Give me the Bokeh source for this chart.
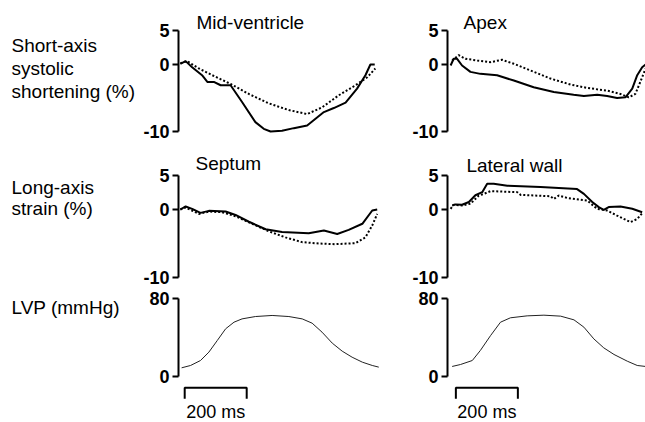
from bokeh.plotting import figure
from bokeh.models import Range1d, FixedTicker, Label
from bokeh.layouts import column, row
from bokeh.embed import file_html
from bokeh.resources import INLINE

# ---------------- data (time in ms, strain in %, pressure in mmHg) ----------------
t_mid_solid = [1, 18, 39, 71, 88, 109, 131, 163, 200, 243, 270, 292, 329, 367, 410, 437, 464, 496, 534, 571, 598, 614, 628]
v_mid_solid = [0.1, 0.5, -0.4, -1.6, -2.6, -2.6, -3.1, -3.1, -5.6, -8.6, -9.6, -10.0, -9.9, -9.5, -9.1, -8.1, -7.1, -6.5, -5.7, -3.6, -1.6, 0.0, 0.0]
t_mid_dot = [1, 23, 61, 104, 163, 222, 286, 351, 410, 458, 512, 566, 604, 630]
v_mid_dot = [0.2, 0.5, -0.6, -1.6, -2.9, -4.4, -5.8, -6.8, -7.4, -6.4, -4.6, -3.1, -1.9, -0.6]

t_apex_solid = [5, 15, 26, 42, 69, 101, 155, 209, 273, 338, 402, 435, 478, 510, 542, 569, 591, 607, 623, 634]
v_apex_solid = [-0.15, 0.85, 0.85, -0.15, -1.1, -1.4, -1.6, -2.4, -3.4, -4.1, -4.5, -4.7, -4.5, -4.7, -5.0, -4.9, -3.6, -1.6, -0.4, 0.0]
t_apex_dot = [10, 31, 53, 91, 134, 171, 209, 263, 327, 392, 446, 510, 553, 580, 601, 617, 634]
v_apex_dot = [0.6, 1.4, 0.85, 0.6, 0.35, 0.7, 0.1, -0.9, -2.1, -3.0, -3.5, -3.9, -4.4, -4.9, -4.4, -2.6, -0.6]

t_sept_solid = [1, 18, 39, 66, 93, 147, 179, 222, 276, 329, 415, 464, 507, 544, 588, 620, 636]
v_sept_solid = [0.0, 0.45, 0.1, -0.5, -0.2, -0.3, -0.8, -1.8, -2.9, -3.3, -3.5, -3.1, -3.6, -3.0, -2.1, -0.15, 0.0]
t_sept_dot = [1, 18, 61, 93, 136, 179, 233, 286, 340, 394, 448, 501, 566, 598, 620, 636]
v_sept_dot = [0.0, 0.3, -0.65, -0.3, -0.4, -1.0, -2.1, -3.2, -4.1, -4.8, -5.0, -5.1, -4.95, -4.1, -2.35, -0.65]

t_lat_solid = [10, 21, 42, 64, 85, 107, 123, 144, 188, 295, 413, 435, 462, 483, 499, 515, 553, 591, 623]
v_lat_solid = [0.6, 0.75, 0.7, 1.1, 2.1, 2.55, 3.8, 3.8, 3.5, 3.3, 3.0, 2.3, 1.1, 0.35, -0.05, 0.35, 0.45, 0.1, -0.4]
t_lat_dot = [5, 15, 42, 69, 96, 112, 134, 220, 231, 327, 338, 354, 381, 446, 478, 510, 542, 585, 607, 623]
v_lat_dot = [0.1, 0.7, 0.6, 0.85, 2.05, 2.3, 2.7, 2.55, 2.15, 1.95, 1.55, 2.05, 1.7, 1.3, 0.1, -0.15, -0.9, -1.85, -1.4, -0.55]

t_lvp_left = [5, 34, 66, 93, 120, 147, 174, 200, 243, 297, 351, 394, 426, 458, 491, 523, 555, 588, 620, 641]
v_lvp_left = [8.9, 11.3, 16.4, 25, 36.9, 48.9, 55.7, 59.1, 61.5, 62.6, 61.5, 59.1, 54.7, 45.5, 34.2, 26, 19.8, 14.7, 11.3, 9.6]
t_lvp_right = [10, 37, 75, 101, 134, 166, 198, 252, 306, 360, 403, 435, 467, 499, 532, 575, 607, 634]
v_lvp_right = [10.3, 12.3, 16.4, 26.7, 42, 55.7, 60.2, 62.2, 62.9, 61.9, 58.1, 50.6, 38.6, 29.4, 22.6, 15.7, 11.3, 10.3]

strain_ticks = [-10, 0, 5]
lvp_ticks = [0, 80]
tick_text = {-10: "-10", 0: "0", 5: "5", 80: "80"}
panel_titles = ["Mid-ventricle", "Apex", "Septum", "Lateral wall"]
row_labels_1 = ["Short-axis", "systolic", "shortening (%)"]
row_labels_2 = ["Long-axis", "strain (%)"]
row_labels_3 = ["LVP (mmHg)"]
scale_bar_left = [15, 215]     # 200 ms
scale_bar_right = [22, 222]    # 200 ms
scale_text = "200 ms"

FONT = "Liberation Sans"


def base_fig(left_border, frame_w, frame_h, x_range, y_start, y_end, y_axis=True):
    p = figure(frame_width=frame_w, frame_height=frame_h,
               min_border_left=left_border, min_border_right=0,
               min_border_top=0, min_border_bottom=0,
               x_range=x_range, y_range=Range1d(y_start, y_end),
               x_axis_type=None, y_axis_type="linear" if y_axis else None,
               toolbar_location=None, output_backend="svg", title=None)
    p.outline_line_color = None
    p.grid.visible = False
    p.background_fill_color = "white"
    p.border_fill_color = "white"
    return p


def make_fig(left_border, frame_w, frame_h, x_end, y_start, y_end, ticks):
    p = base_fig(left_border, frame_w, frame_h, Range1d(-5, x_end), y_start, y_end)
    ax = p.yaxis[0]
    ax.ticker = FixedTicker(ticks=ticks)
    ax.major_label_overrides = {t: tick_text[t] for t in ticks}
    ax.bounds = (min(ticks), max(ticks))
    ax.axis_line_width = 2
    ax.axis_line_color = "black"
    ax.major_tick_line_width = 2
    ax.major_tick_out = 6
    ax.major_tick_in = 0
    ax.minor_tick_line_color = None
    ax.major_label_text_font = FONT
    ax.major_label_text_font_style = "bold"
    ax.major_label_text_font_size = "18px"
    ax.major_label_text_color = "black"
    ax.major_label_standoff = 3
    return p


def add_label(p, x, y, text, size="19px", align="left"):
    p.add_layout(Label(x=x, y=y, text=text, text_font=FONT, text_font_size=size,
                       text_align=align, text_baseline="middle", text_color="black"))


def strain_lines(p, ts, vs, td, vd):
    p.line(ts, vs, line_color="black", line_width=2)
    p.line(td, vd, line_color="black", line_width=2, line_dash="2 2")


LABW = 140           # width of the row-label column
LW, LF = 38, 202     # left column border / frame width  (axis at x = 178)
RW, RF = 67, 198     # right column border / frame width (axis at x = 447)
LX_END = -5 + LF / 0.31
RX_END = -5 + RF / 0.31
H1, H2, H3 = 145, 142, 135

# row 1
r1 = (-12.09, 9.55)
lab1 = base_fig(0, LABW, H1, Range1d(0, LABW), r1[0], r1[1], y_axis=False)
f11 = make_fig(LW, LF, H1, LX_END, r1[0], r1[1], strain_ticks)
f12 = make_fig(RW, RF, H1, RX_END, r1[0], r1[1], strain_ticks)
strain_lines(f11, t_mid_solid, v_mid_solid, t_mid_dot, v_mid_dot)
strain_lines(f12, t_apex_solid, v_apex_solid, t_apex_dot, v_apex_dot)
add_label(f11, 53, 6.27, panel_titles[0])
add_label(f12, 47, 6.27, panel_titles[1])
for lbl, yy in zip(row_labels_1, [2.84, -0.6, -4.03]):
    add_label(lab1, 11, yy, lbl)

# row 2
r2 = (-(H2 - 64) / 6.8, 64 / 6.8)
lab2 = base_fig(0, LABW, H2, Range1d(0, LABW), r2[0], r2[1], y_axis=False)
f21 = make_fig(LW, LF, H2, LX_END, r2[0], r2[1], strain_ticks)
f22 = make_fig(RW, RF, H2, RX_END, r2[0], r2[1], strain_ticks)
strain_lines(f21, t_sept_solid, v_sept_solid, t_sept_dot, v_sept_dot)
strain_lines(f22, t_lat_solid, v_lat_solid, t_lat_dot, v_lat_dot)
add_label(f21, 50, 6.76, panel_titles[2])
add_label(f22, 56, 6.47, panel_titles[3])
for lbl, yy in zip(row_labels_2, [3.24, 0.15]):
    add_label(lab2, 11, yy, lbl)

# row 3
z3 = 376 - (H1 + H2)
r3 = (-(H3 - z3) / 0.975, z3 / 0.975)
lab3 = base_fig(0, LABW, H3, Range1d(0, LABW), r3[0], r3[1], y_axis=False)
f31 = make_fig(LW, LF, H3, LX_END, r3[0], r3[1], lvp_ticks)
f32 = make_fig(RW, RF, H3, RX_END, r3[0], r3[1], lvp_ticks)
f31.line(t_lvp_left, v_lvp_left, line_color="#222222", line_width=1)
f32.line(t_lvp_right, v_lvp_right, line_color="#222222", line_width=1)
add_label(lab3, 11, 70.8, row_labels_3[0])

bar_top, bar_tick = -11.6, -22.9
for p, bar in ((f31, scale_bar_left), (f32, scale_bar_right)):
    p.line([bar[0], bar[0], bar[1], bar[1]], [bar_tick, bar_top, bar_top, bar_tick],
           line_color="black", line_width=2)
    add_label(p, (bar[0] + bar[1]) / 2, -36.4, scale_text, size="18px", align="center")

layout = column(row(lab1, f11, f12, spacing=0),
                row(lab2, f21, f22, spacing=0),
                row(lab3, f31, f32, spacing=0), spacing=0)

open("out.html", "w").write(file_html(layout, INLINE))
